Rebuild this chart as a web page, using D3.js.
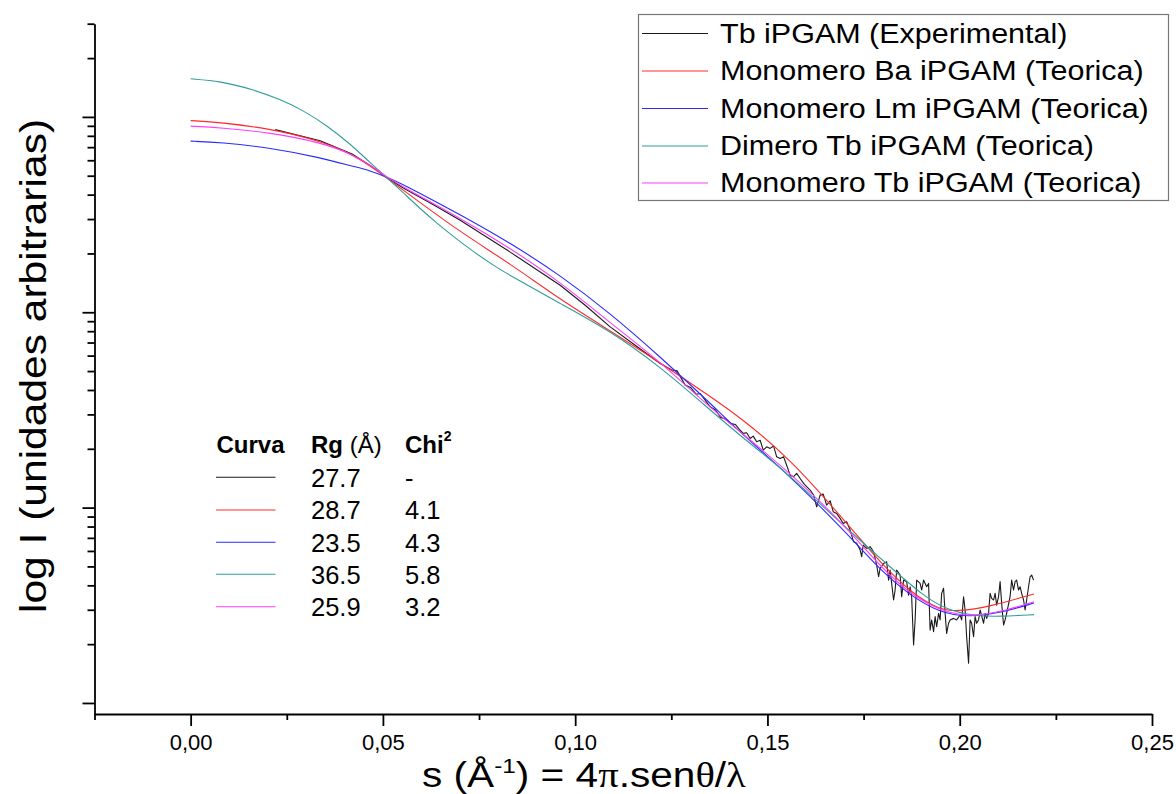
<!DOCTYPE html>
<html><head><meta charset="utf-8">
<script src="https://cdn.jsdelivr.net/npm/d3@7"></script>
<style>
body{margin:0;background:#fff}
svg{display:block;background:#fff}
text{font-family:"Liberation Sans",Arial,sans-serif;fill:#000}
</style>
</head><body>
<svg id="chart" width="1176" height="794"></svg>
<script>
// ---------- DATA ----------
const xMajorTicks = [0, 0.05, 0.10, 0.15, 0.20, 0.25];
const xMinorTicks = [-0.025, 0.025, 0.075, 0.125, 0.175, 0.225];
const yMajorTicks = [1, 10, 100, 1000];
const yMinorTicks = [2,3,4,5,6,7,8,9,20,30,40,50,60,70,80,90,200,300,400,500,600,700,800,900,2000,3000];

const seriesNames = [
  "Tb iPGAM (Experimental)",
  "Monomero Ba iPGAM (Teorica)",
  "Monomero Lm iPGAM (Teorica)",
  "Dimero Tb iPGAM (Teorica)",
  "Monomero Tb iPGAM (Teorica)"
];
const tableRg = ["27.7", "28.7", "23.5", "36.5", "25.9"];
const tableChi2 = ["-", "4.1", "4.3", "5.8", "3.2"];

// [s, log10 I]
const expData = [
[0.0220,2.935],[0.0337,2.878],[0.0420,2.810],[0.0467,2.752],[0.0510,2.690],[0.0553,2.636],[0.0636,2.545],[0.0701,2.471],[0.0831,2.308],[0.0961,2.138],
[0.1026,2.036],[0.1091,1.925],[0.1156,1.831],[0.1221,1.738],[0.1250,1.706],[0.1265,1.700],[0.1286,1.627],[0.1300,1.615],
[0.1315,1.580],[0.1325,1.584],[0.1351,1.516],[0.1365,1.500],[0.1378,1.462],[0.1390,1.455],[0.1405,1.430],[0.1417,1.425],
[0.1429,1.396],[0.1437,1.380],[0.1446,1.383],[0.1455,1.354],[0.1463,1.366],[0.1472,1.337],[0.1481,1.345],[0.1489,1.294],
[0.1498,1.311],[0.1507,1.303],[0.1516,1.315],[0.1524,1.260],[0.1533,1.252],[0.1542,1.260],[0.1550,1.217],[0.1559,1.166],
[0.1568,1.158],[0.1576,1.175],[0.1585,1.149],[0.1594,1.124],[0.1602,1.107],[0.1611,1.090],[0.1620,1.064],[0.1628,1.004],
[0.1637,1.064],[0.1645,1.069],[0.1654,1.013],[0.1663,1.035],[0.1671,0.979],[0.1680,0.970],[0.1689,0.945],[0.1697,0.919],
[0.1706,0.928],[0.1715,0.885],[0.1724,0.825],[0.1732,0.817],[0.1741,0.783],[0.1745,0.749],[0.1749,0.808],[0.1758,0.791],
[0.1767,0.800],[0.1776,0.774],[0.1784,0.706],[0.1789,0.646],[0.1793,0.689],[0.1802,0.714],[0.1810,0.723],[0.1815,0.629],
[0.1819,0.680],[0.1823,0.612],[0.1828,0.527],[0.1832,0.578],[0.1836,0.680],[0.1845,0.655],[0.1849,0.544],[0.1854,0.629],
[0.1862,0.621],[0.1867,0.552],[0.1871,0.595],[0.1875,0.544],[0.1880,0.297],[0.1884,0.425],[0.1888,0.629],[0.1897,0.612],
[0.1901,0.578],[0.1906,0.629],[0.1914,0.595],[0.1919,0.612],[0.1923,0.373],[0.1927,0.425],[0.1932,0.365],[0.1936,0.442],
[0.1940,0.390],[0.1945,0.459],[0.1949,0.425],[0.1953,0.561],[0.1958,0.587],[0.1962,0.459],[0.1966,0.356],[0.1971,0.408],
[0.1975,0.425],[0.1984,0.433],[0.1992,0.425],[0.2001,0.450],[0.2005,0.425],[0.2010,0.544],[0.2014,0.476],[0.2018,0.339],
[0.2023,0.203],[0.2027,0.425],[0.2031,0.408],[0.2036,0.339],[0.2040,0.442],[0.2044,0.408],[0.2049,0.425],[0.2053,0.476],
[0.2062,0.408],[0.2066,0.459],[0.2070,0.433],[0.2075,0.459],[0.2079,0.561],[0.2083,0.535],[0.2088,0.527],[0.2092,0.561],
[0.2096,0.501],[0.2101,0.544],[0.2105,0.621],[0.2109,0.510],[0.2114,0.399],[0.2118,0.425],[0.2122,0.459],[0.2131,0.544],
[0.2135,0.629],[0.2140,0.578],[0.2144,0.621],[0.2148,0.629],[0.2153,0.578],[0.2157,0.595],[0.2161,0.561],[0.2166,0.527],
[0.2170,0.476],[0.2174,0.527],[0.2179,0.595],[0.2183,0.646],[0.2187,0.655],[0.2192,0.629]
];
const baMonomer = [
[0,2.981],[0.0077,2.972],[0.0207,2.940],[0.0337,2.878],[0.0420,2.808],[0.0467,2.748],[0.0510,2.688],[0.0553,2.625],[0.0701,2.410],[0.0831,2.249],
[0.0961,2.065],[0.1091,1.905],[0.1221,1.742],[0.1351,1.570],[0.1429,1.462],[0.1559,1.250],[0.1689,0.960],[0.1793,0.718],
[0.1879,0.555],[0.1948,0.478],[0.1993,0.468],[0.2079,0.493],[0.2193,0.558]
];
const lmMonomer = [
[0,2.876],[0.0077,2.870],[0.0207,2.842],[0.0337,2.792],[0.0420,2.748],[0.0467,2.725],[0.0510,2.692],[0.0553,2.655],[0.0701,2.500],[0.0831,2.355],
[0.0961,2.190],[0.1091,1.995],[0.1221,1.772],[0.1351,1.535],[0.1429,1.385],[0.1559,1.160],[0.1645,0.990],[0.1715,0.850],
[0.1793,0.682],[0.1863,0.562],[0.1948,0.460],[0.2026,0.440],[0.2105,0.460],[0.2193,0.512]
];
const tbDimer = [
[0,3.195],[0.0077,3.183],[0.0163,3.140],[0.0233,3.090],[0.0293,3.033],[0.0355,2.955],[0.0415,2.862],[0.0467,2.765],
[0.0511,2.688],[0.0553,2.612],[0.0597,2.530],[0.0641,2.455],[0.0683,2.388],[0.0727,2.322],[0.0787,2.240],[0.0831,2.188],
[0.0961,2.045],[0.1091,1.905],[0.1221,1.722],[0.1351,1.500],[0.1429,1.368],[0.1559,1.166],[0.1689,0.922],[0.1819,0.697],
[0.1905,0.548],[0.1967,0.476],[0.2035,0.446],[0.2105,0.442],[0.2193,0.452]
];
const tbMonomer = [
[0,2.953],[0.0077,2.945],[0.0207,2.920],[0.0337,2.870],[0.0420,2.810],[0.0467,2.754],[0.0510,2.693],[0.0553,2.640],[0.0701,2.482],[0.0831,2.328],
[0.0961,2.155],[0.1091,1.945],[0.1221,1.748],[0.1351,1.510],[0.1429,1.390],[0.1559,1.175],[0.1689,0.936],[0.1793,0.697],
[0.1879,0.544],[0.1967,0.459],[0.2035,0.445],[0.2105,0.465],[0.2193,0.518]
];

// ---------- STYLE ----------
const seriesColors = ["#1a1a1a", "#ff2a2a", "#2a2aff", "#2f9e9a", "#ff3cff"];
const FONT = '"Liberation Sans", Arial, sans-serif';
const SERIF = '"Liberation Serif", "DejaVu Serif", serif';

const svg = d3.select("#chart");
svg.append("rect").attr("width",1176).attr("height",794).attr("fill","#fff");

const x = d3.scaleLinear().domain([-0.025, 0.25]).range([94.5, 1152]);
const y = d3.scaleLog().domain([0.878, 3000]).range([714, 23.7]);

const locale = d3.formatLocale({decimal: ",", thousands: ".", grouping: [3], currency: ["", ""]});
const fmt = locale.format(".2f");

// ---------- SERIES ----------
const allSeries = [expData, baMonomer, lmMonomer, tbDimer, tbMonomer];
const plot = svg.append("g");
allSeries.forEach((data, i) => {
  const line = d3.line()
    .x(d => x(d[0]))
    .y(d => y(Math.pow(10, d[1])))
    .curve(i === 0 ? d3.curveLinear : d3.curveBasis);
  plot.append("path")
    .datum(data)
    .attr("d", line)
    .attr("fill", "none")
    .attr("stroke", seriesColors[i])
    .attr("stroke-width", 1.1)
    .attr("stroke-linejoin", "round");
});

// ---------- AXES ----------
function styleAxis(g){
  g.selectAll("path.domain").attr("stroke","#000").attr("stroke-width",1.8);
  g.selectAll(".tick line").attr("stroke","#000").attr("stroke-width",1.8);
}
const yMinorG = svg.append("g").attr("transform","translate(94.5,0)")
  .call(d3.axisLeft(y).tickValues(yMinorTicks).tickSize(7).tickSizeOuter(0).tickFormat(""));
styleAxis(yMinorG);
const yMajorG = svg.append("g").attr("transform","translate(94.5,0)")
  .call(d3.axisLeft(y).tickValues(yMajorTicks).tickSize(12).tickSizeOuter(0).tickFormat(""));
yMajorG.select("path.domain").remove();
styleAxis(yMajorG);

const xMinorG = svg.append("g").attr("transform","translate(0,714)")
  .call(d3.axisBottom(x).tickValues(xMinorTicks).tickSize(6).tickSizeOuter(0).tickFormat(""));
styleAxis(xMinorG);
const xMajorG = svg.append("g").attr("transform","translate(0,714)")
  .call(d3.axisBottom(x).tickValues(xMajorTicks).tickSize(12).tickSizeOuter(0).tickFormat(fmt).tickPadding(8.4));
xMajorG.select("path.domain").remove();
styleAxis(xMajorG);
xMajorG.selectAll("text").attr("font-size", 22).attr("font-family", FONT).attr("fill","#000");

// ---------- AXIS TITLES ----------
const xt = svg.append("text")
  .attr("transform","translate(422,786.5) scale(1.16,1)")
  .attr("font-size",35);
xt.append("tspan").text("s (Å");
xt.append("tspan").attr("font-size",21).attr("dy",-14).text("-1");
xt.append("tspan").attr("dy",14).text(") = 4");
xt.append("tspan").attr("font-family",SERIF).text("π");
xt.append("tspan").text(".sen");
xt.append("tspan").attr("font-family",SERIF).text("θ");
xt.append("tspan").text("/");
xt.append("tspan").attr("font-family",SERIF).text("λ");

svg.append("text")
  .attr("transform","translate(46,366) rotate(-90) scale(1.15,1)")
  .attr("text-anchor","middle")
  .attr("font-size",37)
  .text("log I (unidades arbitrarias)");

// ---------- LEGEND ----------
const leg = svg.append("g");
leg.append("rect").attr("x",638.5).attr("y",14.5).attr("width",530).attr("height",186)
  .attr("fill","#fff").attr("stroke","#777").attr("stroke-width",1.2);
const legRowY = [33.5, 71, 108.5, 146, 183];
seriesNames.forEach((name, i) => {
  leg.append("line").attr("x1",642).attr("x2",708).attr("y1",legRowY[i]).attr("y2",legRowY[i])
    .attr("stroke", seriesColors[i]).attr("stroke-width",1.1);
  leg.append("text")
    .attr("transform",`translate(720,${legRowY[i]+9}) scale(1.13,1)`)
    .attr("font-size",27)
    .text(name);
});

// ---------- INNER TABLE ----------
const tbl = svg.append("g");
tbl.append("text").attr("x",216.5).attr("y",453).attr("font-size",24).attr("font-weight","bold").text("Curva");
const rgH = tbl.append("text").attr("x",311).attr("y",453).attr("font-size",24);
rgH.append("tspan").attr("font-weight","bold").text("Rg ");
rgH.append("tspan").text("(Å)");
const chiH = tbl.append("text").attr("x",405).attr("y",453).attr("font-size",24).attr("font-weight","bold");
chiH.append("tspan").text("Chi");
chiH.append("tspan").attr("font-size",14).attr("dy",-12).text("2");
const tblRowY = [477.3, 510, 542.3, 574.3, 606.7];
tableRg.forEach((rg, i) => {
  tbl.append("line").attr("x1",216).attr("x2",275.5).attr("y1",tblRowY[i]).attr("y2",tblRowY[i])
    .attr("stroke", seriesColors[i]).attr("stroke-width",1.1);
  tbl.append("text").attr("x",311).attr("y",tblRowY[i]+9.4).attr("font-size",25.5).text(rg);
  tbl.append("text").attr("x",405).attr("y",tblRowY[i]+9.4).attr("font-size",25.5).text(tableChi2[i]);
});
</script>
</body></html>
